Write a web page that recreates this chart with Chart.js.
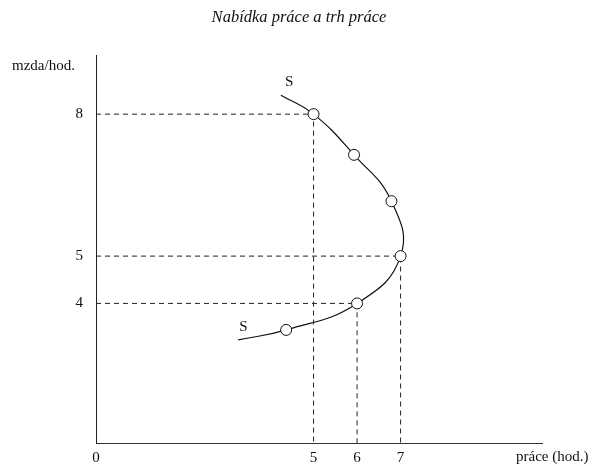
<!DOCTYPE html>
<html><head><meta charset="utf-8">
<script src="https://cdn.jsdelivr.net/npm/chart.js@4"></script>
<style>html,body{margin:0;padding:0;background:#fff}#w{width:593px;height:466px}</style>
</head><body><div id="w"><canvas id="c"></canvas></div>
<script>
// Data
const xTicks = [0, 5, 6, 7];
const yTicks = [4, 5, 8];
const curveX = [4.25, 5, 5.93, 6.79, 7, 6, 4.37, 3.27];
const curveY = [8.40, 8, 7.14, 6.16, 5, 4, 3.44, 3.23];
const markerX = [5, 5.93, 6.79, 7, 6, 4.37];
const markerY = [8, 7.14, 6.16, 5, 4, 3.44];
const guideX = [5, 7, 6];
const guideY = [8, 5, 4];
const X_MIN = 0, X_MAX = 10.25, Y_MIN = 1.05, Y_MAX = 9.25;

const serif = "'Liberation Serif', 'DejaVu Serif', serif";
const pts = (xs, ys) => xs.map((x, i) => ({x, y: ys[i]}));

const guides = guideX.map((gx, i) => ({
  data: [{x: X_MIN, y: guideY[i]}, {x: gx, y: guideY[i]}, {x: gx, y: Y_MIN}],
  borderColor: '#222', borderWidth: 1, borderDash: [5, 4],
  pointRadius: 0, tension: 0, fill: false, order: 3
}));

const textPlugin = {
  id: 'texts',
  afterDraw(chart) {
    const ctx = chart.ctx;
    const xs = chart.scales.x, ys = chart.scales.y;
    ctx.save();
    ctx.fillStyle = '#111';
    ctx.font = 'italic 16.5px ' + serif;
    ctx.textAlign = 'center'; ctx.textBaseline = 'middle';
    ctx.fillText('Nabídka práce a trh práce', 299, 18);
    ctx.font = '15px ' + serif;
    ctx.textAlign = 'left';
    ctx.fillText('mzda/hod.', 12, 66);
    ctx.fillText('práce (hod.)', 516, 457);
    ctx.font = '15px ' + serif;
    const n = curveX.length - 1;
    ctx.fillText('S', xs.getPixelForValue(curveX[0]) + 4, ys.getPixelForValue(curveY[0]) - 13);
    ctx.fillText('S', xs.getPixelForValue(curveX[n]) + 1, ys.getPixelForValue(curveY[n]) - 13);
    ctx.restore();
  }
};

new Chart(document.getElementById('c'), {
  type: 'line',
  data: {
    datasets: [
      ...guides,
      {data: pts(curveX, curveY), borderColor: '#111', borderWidth: 1.2, pointRadius: 0,
       tension: 0.45, fill: false, order: 2},
      {data: pts(markerX, markerY), showLine: false, pointRadius: 5.5, pointBorderWidth: 1,
       pointBackgroundColor: '#fff', pointBorderColor: '#111', order: 1}
    ]
  },
  options: {
    responsive: true, maintainAspectRatio: false, animation: false,
    layout: {padding: {top: 55, right: 51, left: 0, bottom: 0}},
    plugins: {legend: {display: false}, tooltip: {enabled: false}, title: {display: false}},
    scales: {
      x: {
        type: 'linear', min: X_MIN, max: X_MAX,
        afterBuildTicks: s => { s.ticks = xTicks.map(v => ({value: v})); },
        afterFit: s => { s.height = 23; },
        grid: {display: false, drawTicks: false},
        border: {display: true, color: '#333', width: 1},
        ticks: {font: {family: serif, size: 15}, color: '#111', padding: 6, maxRotation: 0,
                callback: v => String(v)}
      },
      y: {
        type: 'linear', min: Y_MIN, max: Y_MAX,
        afterBuildTicks: s => { s.ticks = yTicks.map(v => ({value: v})); },
        afterFit: s => { s.width = 96; },
        grid: {display: false, drawTicks: false},
        border: {display: true, color: '#222', width: 1},
        ticks: {font: {family: serif, size: 15}, color: '#111', padding: 13,
                callback: v => String(v)}
      }
    }
  },
  plugins: [textPlugin]
});
</script></body></html>
